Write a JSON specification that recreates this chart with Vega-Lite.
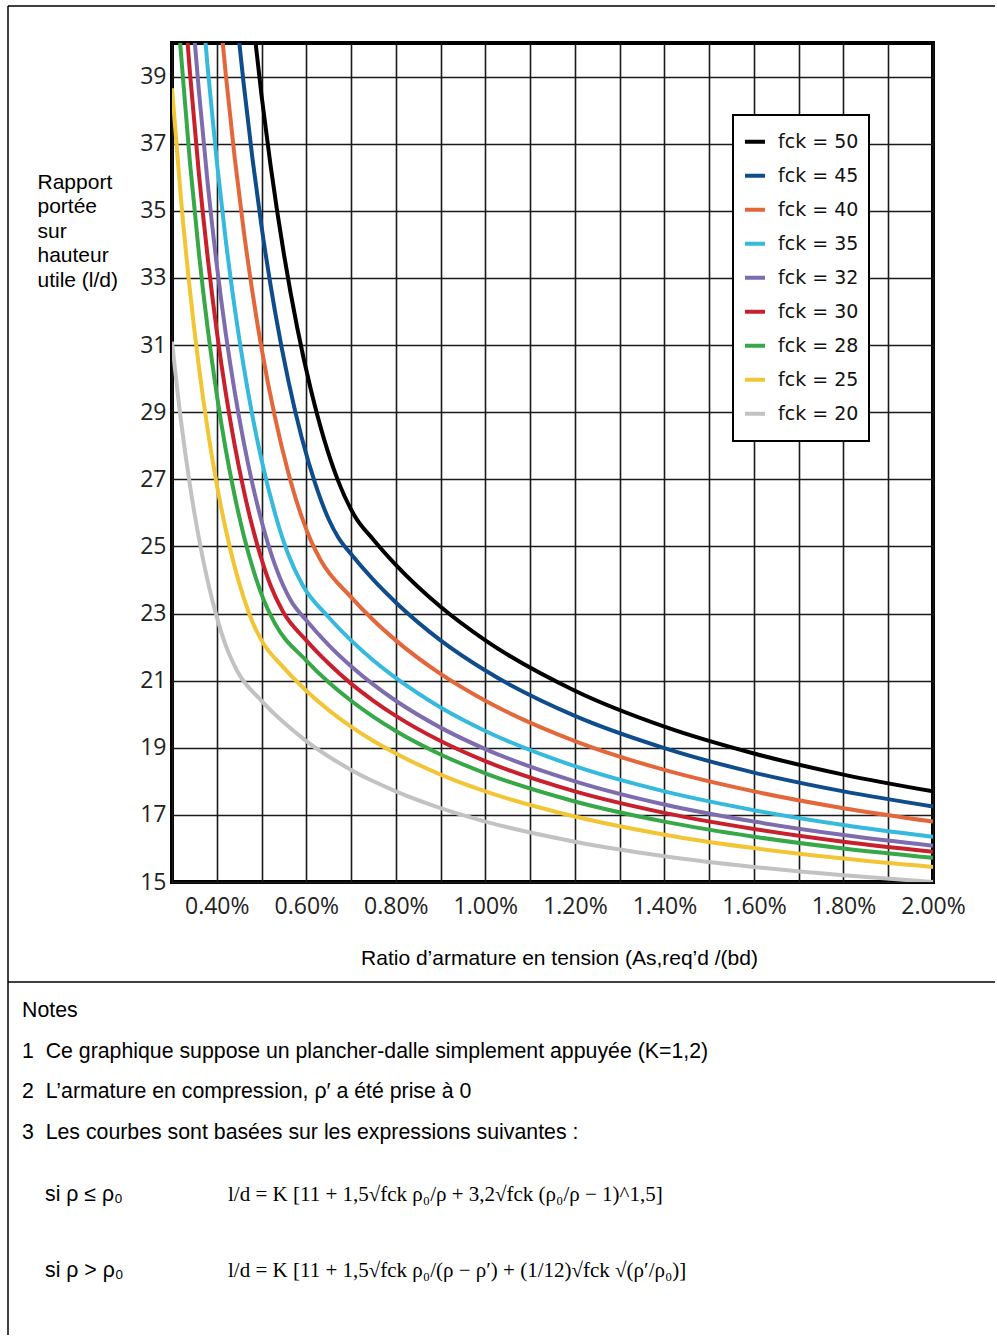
{
  "$schema": "https://vega.github.io/schema/vega-lite/v6.json",
  "width": 761,
  "height": 839,
  "padding": {"left": 7, "top": 5, "right": 0, "bottom": 0},
  "background": "white",
  "config": {
    "view": {"stroke": "#000", "strokeWidth": 4},
    "text": {"font": "Liberation Sans"}
  },
  "resolve": {"scale": {"x": "independent", "y": "independent"}},
  "layer": [
    {
      "data": {"values": [
        {"serie":"fck = 50","rho":0.48,"ld":40.79},{"serie":"fck = 50","rho":0.50,"ld":38.44},{"serie":"fck = 50","rho":0.52,"ld":36.37},{"serie":"fck = 50","rho":0.55,"ld":33.71},{"serie":"fck = 50","rho":0.58,"ld":31.50},{"serie":"fck = 50","rho":0.61,"ld":29.68},{"serie":"fck = 50","rho":0.64,"ld":28.18},{"serie":"fck = 50","rho":0.67,"ld":26.99},{"serie":"fck = 50","rho":0.7071,"ld":25.93},{"serie":"fck = 50","rho":0.75,"ld":25.2},{"serie":"fck = 50","rho":0.8,"ld":24.45},{"serie":"fck = 50","rho":0.9,"ld":23.2},{"serie":"fck = 50","rho":1.0,"ld":22.2},{"serie":"fck = 50","rho":1.2,"ld":20.7},{"serie":"fck = 50","rho":1.4,"ld":19.63},{"serie":"fck = 50","rho":1.6,"ld":18.83},{"serie":"fck = 50","rho":1.8,"ld":18.2},{"serie":"fck = 50","rho":2.0,"ld":17.7},
        {"serie":"fck = 45","rho":0.45,"ld":40.05},{"serie":"fck = 45","rho":0.46,"ld":38.80},{"serie":"fck = 45","rho":0.48,"ld":36.53},{"serie":"fck = 45","rho":0.50,"ld":34.54},{"serie":"fck = 45","rho":0.53,"ld":32.01},{"serie":"fck = 45","rho":0.56,"ld":29.93},{"serie":"fck = 45","rho":0.59,"ld":28.23},{"serie":"fck = 45","rho":0.62,"ld":26.87},{"serie":"fck = 45","rho":0.65,"ld":25.81},{"serie":"fck = 45","rho":0.6708,"ld":25.28},{"serie":"fck = 45","rho":0.70,"ld":24.77},{"serie":"fck = 45","rho":0.75,"ld":24.0},{"serie":"fck = 45","rho":0.8,"ld":23.33},{"serie":"fck = 45","rho":0.9,"ld":22.2},{"serie":"fck = 45","rho":1.0,"ld":21.3},{"serie":"fck = 45","rho":1.2,"ld":19.95},{"serie":"fck = 45","rho":1.4,"ld":18.99},{"serie":"fck = 45","rho":1.6,"ld":18.26},{"serie":"fck = 45","rho":1.8,"ld":17.7},{"serie":"fck = 45","rho":2.0,"ld":17.25},
        {"serie":"fck = 40","rho":0.41,"ld":40.47},{"serie":"fck = 40","rho":0.42,"ld":39.08},{"serie":"fck = 40","rho":0.44,"ld":36.59},{"serie":"fck = 40","rho":0.46,"ld":34.43},{"serie":"fck = 40","rho":0.48,"ld":32.55},{"serie":"fck = 40","rho":0.50,"ld":30.91},{"serie":"fck = 40","rho":0.53,"ld":28.85},{"serie":"fck = 40","rho":0.56,"ld":27.19},{"serie":"fck = 40","rho":0.59,"ld":25.87},{"serie":"fck = 40","rho":0.61,"ld":25.18},{"serie":"fck = 40","rho":0.6325,"ld":24.58},{"serie":"fck = 40","rho":0.70,"ld":23.49},{"serie":"fck = 40","rho":0.75,"ld":22.8},{"serie":"fck = 40","rho":0.8,"ld":22.2},{"serie":"fck = 40","rho":0.9,"ld":21.2},{"serie":"fck = 40","rho":1.0,"ld":20.4},{"serie":"fck = 40","rho":1.2,"ld":19.2},{"serie":"fck = 40","rho":1.4,"ld":18.34},{"serie":"fck = 40","rho":1.6,"ld":17.7},{"serie":"fck = 40","rho":1.8,"ld":17.2},{"serie":"fck = 40","rho":2.0,"ld":16.8},
        {"serie":"fck = 35","rho":0.37,"ld":40.76},{"serie":"fck = 35","rho":0.38,"ld":39.22},{"serie":"fck = 35","rho":0.40,"ld":36.48},{"serie":"fck = 35","rho":0.42,"ld":34.13},{"serie":"fck = 35","rho":0.44,"ld":32.11},{"serie":"fck = 35","rho":0.46,"ld":30.37},{"serie":"fck = 35","rho":0.48,"ld":28.87},{"serie":"fck = 35","rho":0.50,"ld":27.58},{"serie":"fck = 35","rho":0.53,"ld":25.99},{"serie":"fck = 35","rho":0.56,"ld":24.75},{"serie":"fck = 35","rho":0.5916,"ld":23.85},{"serie":"fck = 35","rho":0.65,"ld":22.89},{"serie":"fck = 35","rho":0.70,"ld":22.2},{"serie":"fck = 35","rho":0.75,"ld":21.6},{"serie":"fck = 35","rho":0.8,"ld":21.08},{"serie":"fck = 35","rho":0.9,"ld":20.2},{"serie":"fck = 35","rho":1.0,"ld":19.5},{"serie":"fck = 35","rho":1.2,"ld":18.45},{"serie":"fck = 35","rho":1.4,"ld":17.7},{"serie":"fck = 35","rho":1.6,"ld":17.14},{"serie":"fck = 35","rho":1.8,"ld":16.7},{"serie":"fck = 35","rho":2.0,"ld":16.35},
        {"serie":"fck = 32","rho":0.35,"ld":40.17},{"serie":"fck = 32","rho":0.36,"ld":38.58},{"serie":"fck = 32","rho":0.38,"ld":35.78},{"serie":"fck = 32","rho":0.40,"ld":33.39},{"serie":"fck = 32","rho":0.42,"ld":31.35},{"serie":"fck = 32","rho":0.44,"ld":29.61},{"serie":"fck = 32","rho":0.46,"ld":28.12},{"serie":"fck = 32","rho":0.48,"ld":26.84},{"serie":"fck = 32","rho":0.50,"ld":25.76},{"serie":"fck = 32","rho":0.53,"ld":24.45},{"serie":"fck = 32","rho":0.5657,"ld":23.38},{"serie":"fck = 32","rho":0.60,"ld":22.8},{"serie":"fck = 32","rho":0.65,"ld":22.06},{"serie":"fck = 32","rho":0.70,"ld":21.43},{"serie":"fck = 32","rho":0.75,"ld":20.88},{"serie":"fck = 32","rho":0.8,"ld":20.4},{"serie":"fck = 32","rho":0.9,"ld":19.6},{"serie":"fck = 32","rho":1.0,"ld":18.96},{"serie":"fck = 32","rho":1.2,"ld":18.0},{"serie":"fck = 32","rho":1.4,"ld":17.31},{"serie":"fck = 32","rho":1.6,"ld":16.8},{"serie":"fck = 32","rho":1.8,"ld":16.4},{"serie":"fck = 32","rho":2.0,"ld":16.08},
        {"serie":"fck = 30","rho":0.33,"ld":40.83},{"serie":"fck = 30","rho":0.34,"ld":39.13},{"serie":"fck = 30","rho":0.36,"ld":36.12},{"serie":"fck = 30","rho":0.38,"ld":33.58},{"serie":"fck = 30","rho":0.40,"ld":31.42},{"serie":"fck = 30","rho":0.42,"ld":29.58},{"serie":"fck = 30","rho":0.44,"ld":28.02},{"serie":"fck = 30","rho":0.46,"ld":26.69},{"serie":"fck = 30","rho":0.48,"ld":25.56},{"serie":"fck = 30","rho":0.50,"ld":24.62},{"serie":"fck = 30","rho":0.52,"ld":23.84},{"serie":"fck = 30","rho":0.5477,"ld":23.06},{"serie":"fck = 30","rho":0.60,"ld":22.2},{"serie":"fck = 30","rho":0.65,"ld":21.51},{"serie":"fck = 30","rho":0.70,"ld":20.91},{"serie":"fck = 30","rho":0.75,"ld":20.4},{"serie":"fck = 30","rho":0.8,"ld":19.95},{"serie":"fck = 30","rho":0.9,"ld":19.2},{"serie":"fck = 30","rho":1.0,"ld":18.6},{"serie":"fck = 30","rho":1.2,"ld":17.7},{"serie":"fck = 30","rho":1.4,"ld":17.06},{"serie":"fck = 30","rho":1.6,"ld":16.58},{"serie":"fck = 30","rho":1.8,"ld":16.2},{"serie":"fck = 30","rho":2.0,"ld":15.9},
        {"serie":"fck = 28","rho":0.315,"ld":40.59},{"serie":"fck = 28","rho":0.32,"ld":39.69},{"serie":"fck = 28","rho":0.34,"ld":36.46},{"serie":"fck = 28","rho":0.36,"ld":33.75},{"serie":"fck = 28","rho":0.38,"ld":31.46},{"serie":"fck = 28","rho":0.40,"ld":29.53},{"serie":"fck = 28","rho":0.42,"ld":27.89},{"serie":"fck = 28","rho":0.44,"ld":26.51},{"serie":"fck = 28","rho":0.46,"ld":25.34},{"serie":"fck = 28","rho":0.48,"ld":24.37},{"serie":"fck = 28","rho":0.50,"ld":23.57},{"serie":"fck = 28","rho":0.5292,"ld":22.72},{"serie":"fck = 28","rho":0.60,"ld":21.6},{"serie":"fck = 28","rho":0.65,"ld":20.95},{"serie":"fck = 28","rho":0.70,"ld":20.4},{"serie":"fck = 28","rho":0.75,"ld":19.92},{"serie":"fck = 28","rho":0.8,"ld":19.5},{"serie":"fck = 28","rho":0.9,"ld":18.8},{"serie":"fck = 28","rho":1.0,"ld":18.24},{"serie":"fck = 28","rho":1.2,"ld":17.4},{"serie":"fck = 28","rho":1.4,"ld":16.8},{"serie":"fck = 28","rho":1.6,"ld":16.35},{"serie":"fck = 28","rho":1.8,"ld":16.0},{"serie":"fck = 28","rho":2.0,"ld":15.72},
        {"serie":"fck = 25","rho":0.30,"ld":38.65},{"serie":"fck = 25","rho":0.32,"ld":35.36},{"serie":"fck = 25","rho":0.34,"ld":32.63},{"serie":"fck = 25","rho":0.36,"ld":30.36},{"serie":"fck = 25","rho":0.38,"ld":28.45},{"serie":"fck = 25","rho":0.40,"ld":26.85},{"serie":"fck = 25","rho":0.42,"ld":25.51},{"serie":"fck = 25","rho":0.44,"ld":24.39},{"serie":"fck = 25","rho":0.46,"ld":23.48},{"serie":"fck = 25","rho":0.48,"ld":22.74},{"serie":"fck = 25","rho":0.50,"ld":22.2},{"serie":"fck = 25","rho":0.55,"ld":21.38},{"serie":"fck = 25","rho":0.60,"ld":20.7},{"serie":"fck = 25","rho":0.65,"ld":20.12},{"serie":"fck = 25","rho":0.70,"ld":19.63},{"serie":"fck = 25","rho":0.75,"ld":19.2},{"serie":"fck = 25","rho":0.8,"ld":18.83},{"serie":"fck = 25","rho":0.9,"ld":18.2},{"serie":"fck = 25","rho":1.0,"ld":17.7},{"serie":"fck = 25","rho":1.2,"ld":16.95},{"serie":"fck = 25","rho":1.4,"ld":16.41},{"serie":"fck = 25","rho":1.6,"ld":16.01},{"serie":"fck = 25","rho":1.8,"ld":15.7},{"serie":"fck = 25","rho":2.0,"ld":15.45},
        {"serie":"fck = 20","rho":0.30,"ld":31.10},{"serie":"fck = 20","rho":0.32,"ld":28.75},{"serie":"fck = 20","rho":0.34,"ld":26.83},{"serie":"fck = 20","rho":0.36,"ld":25.25},{"serie":"fck = 20","rho":0.38,"ld":23.95},{"serie":"fck = 20","rho":0.40,"ld":22.90},{"serie":"fck = 20","rho":0.42,"ld":22.05},{"serie":"fck = 20","rho":0.4472,"ld":21.25},{"serie":"fck = 20","rho":0.50,"ld":20.4},{"serie":"fck = 20","rho":0.55,"ld":19.75},{"serie":"fck = 20","rho":0.60,"ld":19.2},{"serie":"fck = 20","rho":0.65,"ld":18.74},{"serie":"fck = 20","rho":0.70,"ld":18.34},{"serie":"fck = 20","rho":0.75,"ld":18.0},{"serie":"fck = 20","rho":0.8,"ld":17.7},{"serie":"fck = 20","rho":0.9,"ld":17.2},{"serie":"fck = 20","rho":1.0,"ld":16.8},{"serie":"fck = 20","rho":1.2,"ld":16.2},{"serie":"fck = 20","rho":1.4,"ld":15.77},{"serie":"fck = 20","rho":1.6,"ld":15.45},{"serie":"fck = 20","rho":1.8,"ld":15.2},{"serie":"fck = 20","rho":2.0,"ld":15.0}
      ]},
      "mark": {"type": "line", "interpolate": "monotone", "strokeWidth": 4, "clip": true},
      "encoding": {
        "x": {
          "field": "rho", "type": "quantitative",
          "scale": {"domain": [0.3, 2.0], "nice": false, "zero": false},
          "axis": {
            "values": [0.3,0.4,0.5,0.6,0.7,0.8,0.9,1.0,1.1,1.2,1.3,1.4,1.5,1.6,1.7,1.8,1.9,2.0],
            "labelExpr": "abs(round(datum.value*10) % 2) == 0 ? format(datum.value, '.2f') + '%' : ''",
            "grid": true, "gridColor": "#1a1a1a", "gridWidth": 1.6,
            "ticks": false, "domain": false,
            "labelFont": "Open Sans", "labelFontSize": 23, "labelColor": "#222",
            "labelPadding": 13, "labelOverlap": false, "labelFlush": false,
            "title": "Ratio d’armature en tension (As,req’d /(bd)",
            "titleFont": "Liberation Sans", "titleFontSize": 21, "titleFontWeight": "normal",
            "titleColor": "#000", "titleX": 387, "titleY": 82, "titleBaseline": "alphabetic", "titleAlign": "center"
          }
        },
        "y": {
          "field": "ld", "type": "quantitative",
          "scale": {"domain": [15, 40], "nice": false, "zero": false},
          "axis": {
            "values": [15,17,19,21,23,25,27,29,31,33,35,37,39],
            "grid": true, "gridColor": "#1a1a1a", "gridWidth": 1.6,
            "ticks": false, "domain": false,
            "labelFont": "Open Sans", "labelFontSize": 23, "labelColor": "#222",
            "labelPadding": 6, "labelOverlap": false,
            "title": ["Rapport", "portée", "sur", "hauteur", "utile (l/d)"],
            "titleFont": "Liberation Sans", "titleFontSize": 21, "titleFontWeight": "normal",
            "titleColor": "#000", "titleAngle": 0, "titleAlign": "left", "titleBaseline": "top",
            "titleX": -135, "titleY": 128, "titleLineHeight": 24.5
          }
        },
        "color": {
          "field": "serie", "type": "nominal",
          "scale": {
            "domain": ["fck = 50","fck = 45","fck = 40","fck = 35","fck = 32","fck = 30","fck = 28","fck = 25","fck = 20"],
            "range": ["#000000","#0f4c8c","#e3673a","#35b9dc","#7d6cae","#c8202d","#36a847","#f2c535","#c2c2c2"]
          },
          "legend": {
            "title": null, "orient": "none", "legendX": 561, "legendY": 72,
            "symbolType": "stroke", "symbolStrokeWidth": 4, "symbolSize": 400,
            "labelFont": "DejaVu Sans", "labelFontSize": 19, "labelColor": "#111",
            "labelOffset": 11, "rowPadding": 0, "clipHeight": 33.6, "padding": 10,
            "strokeColor": "#000", "fillColor": "#fff",
            "encode": {"legend": {"update": {"strokeWidth": {"value": 2}}}}
          }
        }
      }
    },
    {
      "layer": [
        {
          "data": {"values": [
            {"row": 0, "col": 0, "txt": "Notes"},
            {"row": 1, "col": 0, "txt": "1\u00a0\u00a0Ce graphique suppose un plancher-dalle simplement appuyée (K=1,2)"},
            {"row": 2, "col": 0, "txt": "2\u00a0\u00a0L’armature en compression, ρ′ a été prise à 0"},
            {"row": 3, "col": 0, "txt": "3\u00a0\u00a0Les courbes sont basées sur les expressions suivantes :"},
            {"row": 4, "col": 1, "txt": "si ρ ≤ ρ₀"},
            {"row": 5, "col": 1, "txt": "si ρ > ρ₀"}
          ]},
          "mark": {"type": "text", "align": "left", "baseline": "middle", "font": "Liberation Sans", "fontSize": 21.3, "color": "#000"},
          "encoding": {
            "x": {"field": "col", "type": "quantitative", "scale": {"domain": [0, 1, 2], "range": [-150, -127, 56], "nice": false, "zero": false}, "axis": null},
            "y": {"field": "row", "type": "quantitative", "scale": {"domain": [0, 3, 4, 5], "range": [968, 1090, 1152, 1228], "nice": false, "zero": false}, "axis": null},
            "text": {"field": "txt"}
          }
        },
        {
          "data": {"values": [
            {"row": 4, "col": 2, "txt": "l/d = K [11 + 1,5√fck ρ₀/ρ + 3,2√fck (ρ₀/ρ − 1)^1,5]"},
            {"row": 5, "col": 2, "txt": "l/d = K [11 + 1,5√fck ρ₀/(ρ − ρ′) + (1/12)√fck √(ρ′/ρ₀)]"}
          ]},
          "mark": {"type": "text", "align": "left", "baseline": "middle", "font": "Liberation Serif", "fontSize": 21, "color": "#000"},
          "encoding": {
            "x": {"field": "col", "type": "quantitative", "scale": {"domain": [0, 1, 2], "range": [-150, -127, 56], "nice": false, "zero": false}, "axis": null},
            "y": {"field": "row", "type": "quantitative", "scale": {"domain": [0, 3, 4, 5], "range": [968, 1090, 1152, 1228], "nice": false, "zero": false}, "axis": null},
            "text": {"field": "txt"}
          }
        }
      ]
    },
    {
      "data": {"values": [{}]},
      "layer": [
        {
          "mark": {"type": "rule", "stroke": "#000", "strokeWidth": 1.5},
          "encoding": {
            "x": {"datum": 0, "type": "quantitative", "scale": {"domain": [0, 1], "range": [-164, 823], "nice": false, "zero": false}, "axis": null},
            "x2": {"datum": 1},
            "y": {"datum": 0, "type": "quantitative", "scale": {"domain": [0, 1], "range": [-37, 1292], "nice": false, "zero": false}, "axis": null}
          }
        },
        {
          "mark": {"type": "rule", "stroke": "#000", "strokeWidth": 1.5},
          "encoding": {
            "x": {"datum": 0, "type": "quantitative", "scale": {"domain": [0, 1], "range": [-164, 823], "nice": false, "zero": false}, "axis": null},
            "y": {"datum": 0, "type": "quantitative", "scale": {"domain": [0, 1], "range": [-37, 1292], "nice": false, "zero": false}, "axis": null},
            "y2": {"datum": 1}
          }
        },
        {
          "mark": {"type": "rule", "stroke": "#000", "strokeWidth": 1.5},
          "encoding": {
            "x": {"datum": 0, "type": "quantitative", "scale": {"domain": [0, 1], "range": [-164, 823], "nice": false, "zero": false}, "axis": null},
            "x2": {"datum": 1},
            "y": {"datum": 0.7344, "type": "quantitative", "scale": {"domain": [0, 1], "range": [-37, 1292], "nice": false, "zero": false}, "axis": null}
          }
        }
      ]
    }
  ]
}
